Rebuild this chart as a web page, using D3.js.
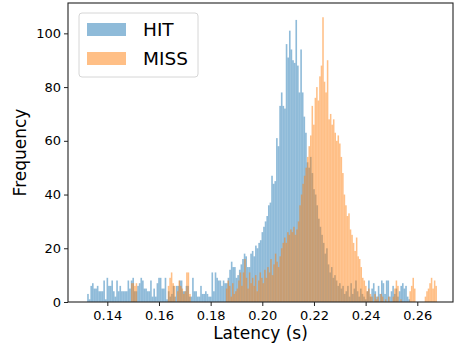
<!DOCTYPE html>
<html>
<head>
<meta charset="utf-8">
<script src="https://cdn.jsdelivr.net/npm/d3@7"></script>
<style>
  body { margin: 0; background: #fff; }
  text { font-family: "DejaVu Sans", sans-serif; }
</style>
</head>
<body>
<script>
// latency range covered by each histogram (seconds), 200 bins each
var hitRange = [0.1322, 0.2572];
var missRange = [0.1492, 0.2676];

var hitCounts = [
    3, 1, 6, 7, 5, 5, 6, 4, 4, 4,
    8, 1, 9, 6, 6, 8, 4, 2, 8, 4,
    6, 4, 4, 4, 4, 8, 5, 8, 9, 4,
    4, 6, 7, 9, 8, 5, 5, 4, 4, 8,
    2, 5, 2, 7, 9, 9, 5, 5, 9, 1,
    4, 2, 3, 6, 2, 6, 6, 8, 8, 4,
    4, 6, 6, 2, 2, 9, 4, 4, 2, 2,
    6, 3, 3, 4, 3, 2, 2, 11, 4, 11,
    9, 8, 8, 6, 8, 7, 7, 9, 12, 15,
    13, 13, 9, 10, 12, 14, 16, 18, 17, 13,
    13, 18, 19, 17, 21, 20, 22, 23, 26, 28,
    30, 32, 36, 37, 47, 44, 45, 61, 58, 73,
    78, 73, 72, 96, 91, 101, 94, 90, 89, 105,
    88, 78, 94, 78, 69, 63, 52, 50, 54, 48,
    42, 40, 36, 31, 28, 25, 22, 18, 20, 14,
    11, 13, 9, 10, 8, 6, 7, 5, 6, 3,
    4, 6, 2, 7, 3, 5, 8, 4, 2, 5,
    3, 2, 1, 4, 8, 2, 5, 7, 4, 2,
    6, 3, 8, 7, 3, 8, 8, 2, 4, 6,
    3, 5, 2, 4, 6, 7, 5, 6, 2, 1
];

var missCounts = [
    7, 7, 6, 7, 0, 0, 0, 0, 0, 0,
    0, 0, 0, 0, 0, 0, 0, 0, 0, 0,
    0, 0, 0, 0, 6, 9, 11, 7, 6, 0,
    4, 8, 6, 5, 3, 4, 11, 11, 3, 0,
    0, 0, 0, 0, 0, 0, 0, 0, 0, 0,
    0, 0, 0, 0, 0, 0, 0, 0, 0, 0,
    0, 0, 5, 8, 6, 2, 7, 3, 4, 5,
    8, 11, 6, 11, 16, 9, 5, 11, 7, 9,
    6, 10, 4, 8, 11, 9, 7, 12, 9, 13,
    11, 16, 10, 14, 18, 15, 13, 17, 20, 22,
    24, 22, 26, 25, 27, 26, 28, 25, 27, 30,
    36, 40, 44, 47, 50, 54, 58, 62, 73, 66,
    76, 80, 75, 84, 88, 106, 82, 78, 90, 68,
    70, 66, 68, 63, 60, 62, 59, 54, 48, 40,
    36, 32, 33, 27, 25, 22, 19, 24, 17, 16,
    13, 9, 8, 6, 4, 5, 3, 2, 0, 3,
    1, 2, 0, 3, 2, 0, 1, 0, 2, 0,
    0, 2, 5, 8, 6, 0, 1, 0, 0, 0,
    0, 0, 4, 6, 9, 5, 0, 0, 0, 0,
    0, 0, 2, 4, 5, 7, 9, 5, 8, 6
];

var xTicks = [0.14, 0.16, 0.18, 0.20, 0.22, 0.24, 0.26];
var yTicks = [0, 20, 40, 60, 80, 100];
var seriesNames = ["HIT", "MISS"];

var svgWidth = 458;
var svgHeight = 344;
var margin = { top: 3, right: 5, bottom: 42, left: 68 };

var svg = d3.select("body")
        .append("svg")
        .attr("width", svgWidth)
        .attr("height", svgHeight);

var xScale = d3.scaleLinear()
        .domain([0.12478, 0.27382])
        .range([margin.left, svgWidth - margin.right]);

var yScale = d3.scaleLinear()
        .domain([0, 111.3])
        .range([svgHeight - margin.bottom, margin.top]);

function toBins(range, counts) {
    var w = (range[1] - range[0]) / counts.length;
    return counts.map(function (c, i) {
        return { x0: range[0] + i * w, x1: range[0] + (i + 1) * w, n: c };
    });
}

var series = [
    { name: seriesNames[0], color: "#1f77b4", bins: toBins(hitRange, hitCounts) },
    { name: seriesNames[1], color: "#ff7f0e", bins: toBins(missRange, missCounts) }
];

series.forEach(function (s) {
    svg.append("g")
        .attr("fill", s.color)
        .attr("fill-opacity", 0.5)
        .selectAll("rect")
        .data(s.bins.filter(function (d) { return d.n > 0; }))
        .enter()
        .append("rect")
        .attr("x", function (d) { return xScale(d.x0); })
        .attr("width", function (d) { return xScale(d.x1) - xScale(d.x0); })
        .attr("y", function (d) { return yScale(d.n); })
        .attr("height", function (d) { return yScale(0) - yScale(d.n); });
});

var xAxis = d3.axisBottom(xScale)
        .tickValues(xTicks)
        .tickFormat(d3.format(".2f"))
        .tickSize(4)
        .tickPadding(5);

var yAxis = d3.axisLeft(yScale)
        .tickValues(yTicks)
        .tickSize(4)
        .tickPadding(3);

var gx = svg.append("g")
        .attr("transform", "translate(0," + yScale(0) + ")")
        .call(xAxis);

var gy = svg.append("g")
        .attr("transform", "translate(" + margin.left + ",0)")
        .call(yAxis);

[gx, gy].forEach(function (g) {
    g.select(".domain").remove();
    g.selectAll("line").attr("stroke", "#222").attr("stroke-width", 1);
    g.selectAll("text")
        .attr("font-family", "DejaVu Sans")
        .attr("font-size", 13)
        .attr("fill", "#000");
});

// frame
svg.append("rect")
        .attr("x", margin.left)
        .attr("y", margin.top)
        .attr("width", svgWidth - margin.right - margin.left)
        .attr("height", yScale(0) - margin.top)
        .attr("fill", "none")
        .attr("stroke", "#222")
        .attr("stroke-width", 1.1);

svg.append("text")
        .attr("x", (margin.left + svgWidth - margin.right) / 2)
        .attr("y", 339)
        .attr("text-anchor", "middle")
        .attr("font-size", 17)
        .text("Latency (s)");

svg.append("text")
        .attr("transform", "translate(26," + ((margin.top + yScale(0)) / 2) + ") rotate(-90)")
        .attr("text-anchor", "middle")
        .attr("font-size", 17)
        .text("Frequency");

// legend
var legend = svg.append("g");
legend.append("rect")
        .attr("x", 79)
        .attr("y", 13)
        .attr("width", 119)
        .attr("height", 64)
        .attr("rx", 3)
        .attr("fill", "#fff")
        .attr("fill-opacity", 0.8)
        .attr("stroke", "#d6d6d6");

series.forEach(function (s, i) {
    legend.append("rect")
        .attr("x", 87)
        .attr("y", 23 + i * 29)
        .attr("width", 39)
        .attr("height", 13)
        .attr("fill", s.color)
        .attr("fill-opacity", 0.5);
    legend.append("text")
        .attr("x", 143)
        .attr("y", 36 + i * 29)
        .attr("font-size", 18.5)
        .text(s.name);
});
</script>
</body>
</html>
